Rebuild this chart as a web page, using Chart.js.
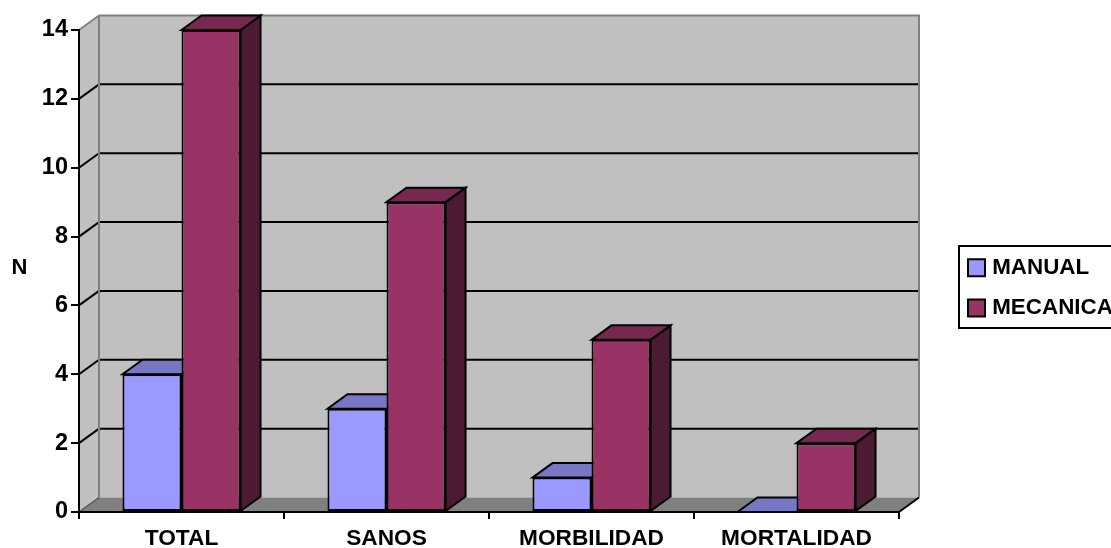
<!DOCTYPE html>
<html>
<head>
<meta charset="utf-8">
<title>Manual / Mecanica</title>
<script src="https://cdn.jsdelivr.net/npm/chart.js@4"></script>
<style>
	html, body { margin: 0; padding: 0; background: #fff; overflow: hidden; }
	#wrap { width: 1111px; height: 548px; }
</style>
</head>
<body>
<div id="wrap"><canvas id="barChart"></canvas></div>
<script>
const categories = ['TOTAL', 'SANOS', 'MORBILIDAD', 'MORTALIDAD'];
const manualValues = [4, 3, 1, 0];
const mecanicaValues = [14, 9, 5, 2];
const yTicks = [0, 2, 4, 6, 8, 10, 12, 14];

// how far the back of the box sits from the front plane
const DEPTH_X = 20;
const DEPTH_Y = 14.5;

const WALL = '#c0c0c0';
const FLOOR = '#808080';

const poly = (ctx, pts, fill, stroke, lw) => {
	ctx.beginPath();
	pts.forEach((p, i) => i ? ctx.lineTo(p[0], p[1]) : ctx.moveTo(p[0], p[1]));
	ctx.closePath();
	if (fill) {
		ctx.fillStyle = fill;
		ctx.fill();
	}
	if (stroke) {
		ctx.strokeStyle = stroke;
		ctx.lineWidth = lw;
		ctx.lineJoin = 'miter';
		ctx.stroke();
	}
};

const line = (ctx, x1, y1, x2, y2, color, lw) => {
	ctx.beginPath();
	ctx.moveTo(x1, y1);
	ctx.lineTo(x2, y2);
	ctx.strokeStyle = color;
	ctx.lineWidth = lw;
	ctx.stroke();
};

// back wall, side wall, floor and the gridlines that wrap around them
const boxPlugin = {
	id: 'box3d',
	beforeDraw(chart) {
		const ctx = chart.ctx;
		const {left, right, top, bottom} = chart.chartArea;
		const y = chart.scales.y;
		ctx.save();
		poly(ctx, [[left, top], [left + DEPTH_X, top - DEPTH_Y], [right + DEPTH_X, top - DEPTH_Y], [right + DEPTH_X, bottom - DEPTH_Y], [left + DEPTH_X, bottom - DEPTH_Y], [left, bottom]], WALL);
		poly(ctx, [[left, bottom], [right, bottom], [right + DEPTH_X, bottom - DEPTH_Y], [left + DEPTH_X, bottom - DEPTH_Y]], FLOOR);

		yTicks.forEach(t => {
			const py = y.getPixelForValue(t);
			if (t > 0 && t < yTicks[yTicks.length - 1]) {
				line(ctx, left, py, left + DEPTH_X, py - DEPTH_Y, '#000', 2);
				line(ctx, left + DEPTH_X, py - DEPTH_Y, right + DEPTH_X, py - DEPTH_Y, '#000', 2);
			}
		});

		line(ctx, left + DEPTH_X, top - DEPTH_Y, left + DEPTH_X, bottom - DEPTH_Y, FLOOR, 2);
		line(ctx, left + DEPTH_X, top - DEPTH_Y, right + DEPTH_X + 1, top - DEPTH_Y, FLOOR, 2);
		line(ctx, right + DEPTH_X, top - DEPTH_Y, right + DEPTH_X, bottom - DEPTH_Y, FLOOR, 2);
		line(ctx, left, top, left + DEPTH_X, top - DEPTH_Y, FLOOR, 2);
		line(ctx, left, bottom, left + DEPTH_X, bottom - DEPTH_Y, '#555', 1.5);
		line(ctx, right, bottom, right + DEPTH_X, bottom - DEPTH_Y, '#000', 2);
		ctx.restore();
	},
	// top and side faces of every series go down first, then the library paints the fronts
	beforeDatasetsDraw(chart) {
		const ctx = chart.ctx;
		ctx.save();
		chart.data.datasets.forEach((ds, i) => {
			chart.getDatasetMeta(i).data.forEach(bar => {
				const {x, y, base, width} = bar.getProps(['x', 'y', 'base', 'width'], true);
				const l = x - width / 2;
				const r = x + width / 2;
				poly(ctx, [[r, y], [r + DEPTH_X, y - DEPTH_Y], [r + DEPTH_X, base - DEPTH_Y], [r, base]], ds.sideColor, '#000', 2);
				poly(ctx, [[l, y], [l + DEPTH_X, y - DEPTH_Y], [r + DEPTH_X, y - DEPTH_Y], [r, y]], ds.topColor, '#000', 2);
			});
		});
		ctx.restore();
	},
	afterLayout(chart) {
		// legend sits right of the box, not inside the plot
		const lg = chart.legend;
		lg.left = 954;
		lg.right = 1111;
		lg.top = 238.5;
		lg.bottom = 345;
	},
	afterDraw(chart) {
		const ctx = chart.ctx;
		ctx.save();
		ctx.strokeStyle = '#000';
		ctx.lineWidth = 2;
		ctx.strokeRect(959, 246, 156, 82);
		// upright axis title
		ctx.fillStyle = '#000';
		ctx.font = 'bold 22px "Liberation Sans"';
		ctx.textAlign = 'center';
		ctx.textBaseline = 'middle';
		ctx.fillText('N', 19.5, 268);
		ctx.restore();
	}
};

const catFont = {family: '"Liberation Sans"', size: 22.7, weight: 'bold'};
const valueFont = {family: '"Liberation Sans"', size: 23.5, weight: 'bold'};
const legendFont = {family: '"Liberation Sans"', size: 22.4, weight: 'bold'};

new Chart(document.getElementById('barChart').getContext('2d'), {
	type: 'bar',
	data: {
		labels: categories,
		datasets: [
			{
				label: 'MANUAL',
				data: manualValues,
				backgroundColor: '#9999ff',
				topColor: '#7777c6',
				sideColor: '#4d4d80',
				borderColor: '#000',
				borderWidth: 2,
				borderSkipped: false,
				clip: false
			},
			{
				label: 'MECANICA',
				data: mecanicaValues,
				backgroundColor: '#993366',
				topColor: '#772850',
				sideColor: '#4d1a33',
				borderColor: '#000',
				borderWidth: 2,
				borderSkipped: false,
				clip: false
			}
		]
	},
	options: {
		responsive: true,
		maintainAspectRatio: false,
		animation: false,
		layout: {padding: {left: 0, top: 30, right: 212, bottom: 0}},
		categoryPercentage: 0.576,
		barPercentage: 1,
		scales: {
			x: {
				offset: true,
				afterFit(scale) { scale.height = 36; },
				grid: {drawOnChartArea: false, drawTicks: true, tickLength: 7, color: '#000', lineWidth: 2},
				border: {display: true, color: '#000', width: 2},
				ticks: {font: catFont, color: '#000', padding: 6, maxRotation: 0, autoSkip: false}
			},
			y: {
				min: 0,
				max: 14,
				afterFit(scale) { scale.width = 79; },
				afterBuildTicks(scale) { scale.ticks = yTicks.map(value => ({value})); },
				grid: {drawOnChartArea: false, drawTicks: true, tickLength: 8, color: '#000', lineWidth: 2},
				border: {display: true, color: '#000', width: 2},
				ticks: {font: valueFont, color: '#000', padding: 3}
			}
		},
		plugins: {
			tooltip: {enabled: false},
			legend: {
				position: 'chartArea',
				align: 'start',
				labels: {
					font: legendFont,
					color: '#000',
					usePointStyle: true,
					pointStyle: 'rect',
					boxWidth: 9,
					boxHeight: 17,
					padding: 18
				}
			}
		}
	},
	plugins: [boxPlugin]
});
</script>
</body>
</html>
